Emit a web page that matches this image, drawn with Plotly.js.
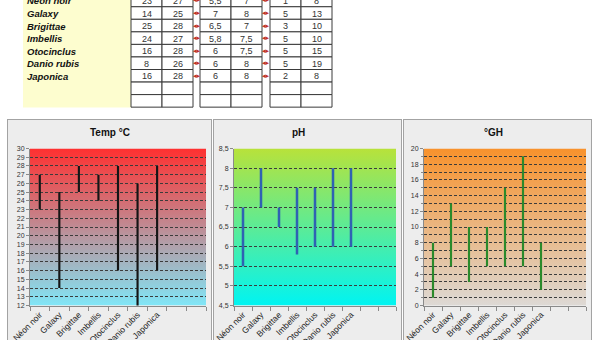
<!DOCTYPE html>
<html><head><meta charset="utf-8">
<script src="https://cdn.plot.ly/plotly-3.0.1.min.js"></script>
<style>
html,body{margin:0;padding:0;background:#fff;overflow:hidden}
#wrap{position:relative;width:600px;height:340px;overflow:hidden}
.panel{position:absolute;top:119px;height:240px;background:#ededed;border:1px solid #a3a3a3;box-sizing:border-box}
#chart{position:absolute;left:0;top:0;width:600px;height:340px}
</style>
</head><body>
<div id="wrap">
  <div class="panel" style="left:7px;width:205px"></div>
  <div class="panel" style="left:213px;width:189px"></div>
  <div class="panel" style="left:403px;width:189px"></div>
  <div id="chart"></div>
</div>
<script>
// ---- data ----
const species = ["Néon noir","Galaxy","Brigittae","Imbellis","Otocinclus","Danio rubis","Japonica"];
const emptyRows = 2;
const tempMin = [23,14,25,24,16,8,16];
const tempMax = [27,25,28,27,28,26,28];
const phMin   = [5.5,7,6.5,5.8,6,6,6];
const phMax   = [7,8,7,7.5,7.5,8,8];
const ghMin   = [1,5,3,5,5,5,2];
const ghMax   = [8,13,10,10,15,19,8];
const chartTitles = ["Temp °C","pH","°GH"];

// ---- helpers ----
const W = 600, H = 340;
const px = x => x / W;
const py = y => 1 - y / H;
const FONT = "Liberation Sans, Arial, sans-serif";
const nSlots = species.length + emptyRows;
const idx = species.map((_, i) => i);
const fmt = v => String(v).replace('.', ',');
const GRIDDASH = '3px,2px';
const GRIDCOLOR = '#3c3c3c';

function gradSrc(top, bottom) {
  const s = "<svg xmlns='http://www.w3.org/2000/svg' width='100' height='100' preserveAspectRatio='none'>" +
    "<defs><linearGradient id='g' x1='0' y1='0' x2='0' y2='1'>" +
    "<stop offset='0' stop-color='" + top + "'/><stop offset='1' stop-color='" + bottom + "'/>" +
    "</linearGradient></defs><rect width='100' height='100' fill='url(#g)'/></svg>";
  return 'data:image/svg+xml;charset=utf-8,' + encodeURIComponent(s);
}

const shapes = [], annotations = [], images = [], traces = [];
const layout = {
  width: W, height: H, margin: {l:0, r:0, t:0, b:0},
  paper_bgcolor: 'rgba(0,0,0,0)', plot_bgcolor: 'rgba(0,0,0,0)',
  showlegend: false, separators: ', ', barmode: 'overlay',
  font: {family: FONT, color: '#222'}, hovermode: false
};

// ---- table ----
shapes.push({type:'rect', xref:'paper', yref:'paper', x0:px(23), x1:px(131), y0:py(107.5), y1:py(-10),
  fillcolor:'#fdfdcf', line:{width:0}, layer:'below'});
const rowTop0 = -5.8, rowH = 12.55;
const groupLeft = [131, 200, 270], cellW = 31;
const groupVals = [[tempMin,tempMax],[phMin,phMax],[ghMin,ghMax]];
for (let r = 0; r < nSlots; r++) {
  const y0 = rowTop0 + r * rowH, y1 = y0 + rowH, yc = (y0 + y1) / 2;
  if (r < species.length) {
    annotations.push({xref:'paper', yref:'paper', x:px(25), y:py(yc + 0.5), xanchor:'left', yanchor:'middle',
      text:'<b><i>' + species[r] + '</i></b>', showarrow:false, font:{size:9.5, color:'#111'}});
  }
  groupLeft.forEach((gl, g) => {
    for (let c = 0; c < 2; c++) {
      const x0 = gl + c * cellW;
      shapes.push({type:'rect', xref:'paper', yref:'paper', x0:px(x0), x1:px(x0 + cellW), y0:py(y1), y1:py(y0),
        fillcolor:'#ffffff', line:{color:'#3a3a3a', width:1}});
      if (r < species.length) {
        annotations.push({xref:'paper', yref:'paper', x:px(x0 + cellW / 2), y:py(yc + 0.5), xanchor:'center', yanchor:'middle',
          text: fmt(groupVals[g][c][r]), showarrow:false, font:{size:9, color:'#333'}});
      }
    }
    if (g > 0 && r < species.length) {
      const gx = (groupLeft[g - 1] + 2 * cellW + gl) / 2;
      annotations.push({xref:'paper', yref:'paper', x:px(gx), y:py(yc), xanchor:'center', yanchor:'middle',
        text:'◂▸', showarrow:false, font:{size:7, color:'#c0302a', family:'DejaVu Sans'}});
    }
  });
}

// ---- charts ----
const charts = [
  {min:tempMin, max:tempMax, range:[12,30], dtick:1, minor:null, color:'#151515', width:0.11,
   grad:['#ff3030','#80e6f7'], plot:[30,206], titleX:110},
  {min:phMin, max:phMax, range:[4.5,8.5], dtick:0.5, minor:null, color:'#2f62b3', width:0.14,
   grad:['#b8e23a','#00f4f2'], plot:[234,396], titleX:298},
  {min:ghMin, max:ghMax, range:[0,20], dtick:2, minor:1, color:'#2b8a2b', width:0.12,
   grad:['#f8922c','#ddd9d5'], plot:[424,586], titleX:493}
];
const plotTop = 148.5, plotBottom = 305.5;
const slotEdges = Array.from({length: nSlots + 1}, (_, i) => i - 0.5);

charts.forEach((c, i) => {
  const sfx = i === 0 ? '' : String(i + 1);
  const xa = 'x' + sfx, ya = 'y' + sfx;
  traces.push({type:'bar', x: idx, y: c.max.map((v, k) => v - c.min[k]), base: c.min,
    width: c.width, marker:{color:c.color, line:{width:0}}, xaxis:xa, yaxis:ya, hoverinfo:'skip'});
  layout['xaxis' + sfx] = {
    domain:[px(c.plot[0]), px(c.plot[1])], anchor: ya, range:[-0.5, nSlots - 0.5],
    tickmode:'array', tickvals: idx, ticktext: species, tickangle:-45, ticks:'',
    tickfont:{size:8.5, color:'#222'}, showgrid:false, zeroline:false,
    showline:true, linecolor:'#8a8a8a', linewidth:1, fixedrange:true,
    minor:{tickmode:'array', tickvals: slotEdges, ticks:'outside', ticklen:4, tickcolor:'#8a8a8a', showgrid:false}
  };
  const yax = {
    domain:[py(plotBottom), py(plotTop)], anchor: xa, range: c.range,
    tickmode:'linear', tick0: c.range[0], dtick: c.dtick, ticks:'outside', ticklen:3, tickcolor:'#8a8a8a',
    tickfont:{size:7, color:'#333'}, showgrid:true, gridcolor:GRIDCOLOR, griddash:GRIDDASH, gridwidth:1,
    zeroline:false, showline:true, linecolor:'#8a8a8a', linewidth:1, fixedrange:true
  };
  if (c.minor) yax.minor = {dtick: c.minor, tick0: c.range[0], ticks:'outside', ticklen:2, tickcolor:'#8a8a8a',
    showgrid:true, gridcolor:GRIDCOLOR, griddash:GRIDDASH, gridwidth:1};
  layout['yaxis' + sfx] = yax;
  images.push({source: gradSrc(c.grad[0], c.grad[1]), xref: xa + ' domain', yref: ya + ' domain',
    x:0, y:1, sizex:1, sizey:1, xanchor:'left', yanchor:'top', sizing:'stretch', layer:'below'});
  annotations.push({xref:'paper', yref:'paper', x:px(c.titleX), y:py(133), xanchor:'center', yanchor:'middle',
    text:'<b>' + chartTitles[i] + '</b>', showarrow:false, font:{size:10, color:'#111'}});
});

layout.shapes = shapes;
layout.annotations = annotations;
layout.images = images;
Plotly.newPlot('chart', traces, layout, {staticPlot:true, displayModeBar:false});
</script>
</body></html>
